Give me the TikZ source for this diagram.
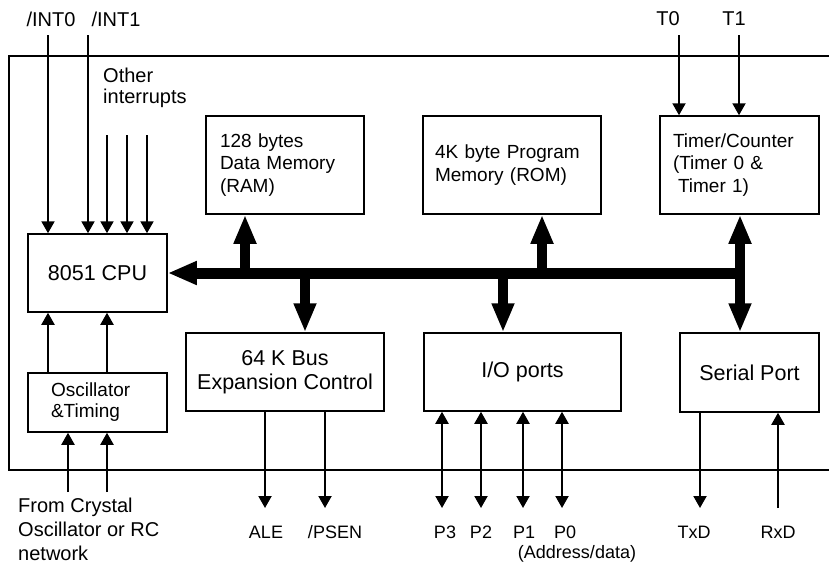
\documentclass[tikz,border=0pt]{standalone}
\usepackage{fontspec}
\setmainfont{Liberation Sans}
\usepackage{tikz}
\usetikzlibrary{positioning}
\usetikzlibrary{arrows.meta}

\begin{document}
\begin{tikzpicture}[
  box/.style={draw=black, line width=1.5pt, inner sep=0pt, align=center, font=\fontsize{21.5}{24}\selectfont},
  memo/.style={draw=black, line width=1.5pt, inner ysep=0pt, inner xsep=14pt, align=left, font=\fontsize{19}{22.5}\selectfont},
  lbl/.style={inner sep=0pt, font=\fontsize{20}{21}\selectfont},
  port/.style={inner sep=0pt, font=\fontsize{18}{22}\selectfont},
  sig/.style={line width=2pt, -{Triangle[length=12pt, width=13pt]}},
  dsig/.style={line width=2pt, {Triangle[length=12pt, width=13pt]}-{Triangle[length=12pt, width=13pt]}},
  bus/.style={line width=11pt, -{Triangle[length=29pt, width=22pt]}},
  stub/.style={line width=10pt, -{Triangle[length=29pt, width=21pt]}},
  dstub/.style={line width=10pt, {Triangle[length=29pt, width=21pt]}-{Triangle[length=29pt, width=21pt]}}
]
\useasboundingbox (0pt, 0pt) rectangle (829pt, -566pt);

% chip outline, open to the right
\draw [line width=1.3pt] (829pt, -56pt) -| (9pt, -470pt) -- (829pt, -470pt);

% blocks
\node (cpu) [box, minimum width=139pt, minimum height=78pt] at (97.5pt, -273.0pt) {8051 CPU};
\node (osc) [memo, text width=93pt, inner xsep=23pt, minimum height=59pt, font=\fontsize{19}{21}\selectfont] at (97.5pt, -402.5pt) {Oscillator\\\&Timing};
\node (ram) [memo, text width=130pt, minimum height=98pt] at (285.0pt, -165.0pt) {128 bytes\\Data Memory\\(RAM)};
\node (rom) [memo, text width=154pt, inner xsep=12pt, minimum height=98pt] at (512.0pt, -165.0pt) {4K byte Program\\Memory (ROM)};
\node (timer) [memo, text width=133pt, inner xsep=13pt, minimum height=98pt] at (739.5pt, -165.0pt) {Timer/Counter\\(Timer 0 \&\\\hspace*{5pt}Timer 1)};
\node (busctl) [box, minimum width=198pt, minimum height=78pt] at (285.0pt, -372.0pt) {64 K Bus\\Expansion Control};
\node (ioports) [box, minimum width=197pt, minimum height=78pt] at (522.5pt, -372.0pt) {I/O ports};
\node (serial) [box, minimum width=139pt, minimum height=79pt] at (749.5pt, -372.5pt) {Serial Port};

% outside labels
\node (lint0) [lbl] at (51.0pt, -19.0pt) {/INT0};
\node (lint1) [lbl] at (116.0pt, -19.0pt) {/INT1};
\node (lt0) [lbl] at (668.0pt, -19.0pt) {T0};
\node (lt1) [lbl] at (734.0pt, -19.0pt) {T1};
\node (lother) [lbl, anchor=west, align=left] at (103.0pt, -87.5pt) {Other\\interrupts};
\node (lxtal) [lbl, anchor=west, align=left, font=\fontsize{20}{24}\selectfont] at (18.0pt, -529.0pt) {From Crystal\\Oscillator or RC\\network};
\node (lale) [port] at (266.0pt, -532.0pt) {ALE};
\node (lpsen) [port] at (335.0pt, -532.0pt) {/PSEN};
\node (lp3) [port] at (445.0pt, -532.0pt) {P3};
\node (lp2) [port] at (481.0pt, -532.0pt) {P2};
\node (lp1) [port] at (524.0pt, -532.0pt) {P1};
\node (lp0) [port] at (565.0pt, -532.0pt) {P0};
\node (laddr) [port] at (577.0pt, -554.0pt) {(Address/data)};
\node (ltxd) [port] at (694.0pt, -532.0pt) {TxD};
\node (lrxd) [port] at (778.0pt, -532.0pt) {RxD};

% free ends of the signal lines
\coordinate (int0) at (48pt, -35pt);
\coordinate (int1) at (88pt, -35pt);
\coordinate (irq1) at (107pt, -135pt);
\coordinate (irq2) at (127pt, -135pt);
\coordinate (irq3) at (147pt, -135pt);
\coordinate (xtal1) at (68pt, -492pt);
\coordinate (xtal2) at (107pt, -492pt);
\coordinate (t0) at (679pt, -35pt);
\coordinate (t1) at (739pt, -35pt);
\coordinate (ale) at (265pt, -508pt);
\coordinate (psen) at (325pt, -508pt);
\coordinate (p3) at (442pt, -508pt);
\coordinate (p2) at (481pt, -508pt);
\coordinate (p1) at (523pt, -508pt);
\coordinate (p0) at (562pt, -508pt);
\coordinate (txd) at (700pt, -508pt);
\coordinate (rxd) at (778pt, -508pt);

% taps on the internal bus
\coordinate (b1) at (245pt, -273pt);
\coordinate (b2) at (305pt, -273pt);
\coordinate (b3) at (503pt, -273pt);
\coordinate (b4) at (542pt, -273pt);
\coordinate (b5) at (740pt, -273pt);

% internal bus
\draw [bus] (b5) -- (cpu.east);
\draw [stub] (b1) -- (b1 |- ram.south);
\draw [stub] (b2) -- (b2 |- busctl.north);
\draw [stub] (b3) -- (b3 |- ioports.north);
\draw [stub] (b4) -- (b4 |- rom.south);
\draw [dstub] (b5 |- timer.south) -- (b5 |- serial.north);

% interrupts and clock
\draw [sig] (int0) -- (int0 |- cpu.north);
\draw [sig] (int1) -- (int1 |- cpu.north);
\draw [sig] (irq1) -- (irq1 |- cpu.north);
\draw [sig] (irq2) -- (irq2 |- cpu.north);
\draw [sig] (irq3) -- (irq3 |- cpu.north);
\draw [sig] (int0 |- osc.north) -- (int0 |- cpu.south);
\draw [sig] (irq1 |- osc.north) -- (irq1 |- cpu.south);
\draw [sig] (xtal1) -- (xtal1 |- osc.south);
\draw [sig] (xtal2) -- (xtal2 |- osc.south);

% timer inputs
\draw [sig] (t0) -- (t0 |- timer.north);
\draw [sig] (t1) -- (t1 |- timer.north);

% external pins
\draw [sig] (ale |- busctl.south) -- (ale);
\draw [sig] (psen |- busctl.south) -- (psen);
\draw [dsig] (p3 |- ioports.south) -- (p3);
\draw [dsig] (p2 |- ioports.south) -- (p2);
\draw [dsig] (p1 |- ioports.south) -- (p1);
\draw [dsig] (p0 |- ioports.south) -- (p0);
\draw [sig] (txd |- serial.south) -- (txd);
\draw [sig] (rxd) -- (rxd |- serial.south);
\end{tikzpicture}
\end{document}
